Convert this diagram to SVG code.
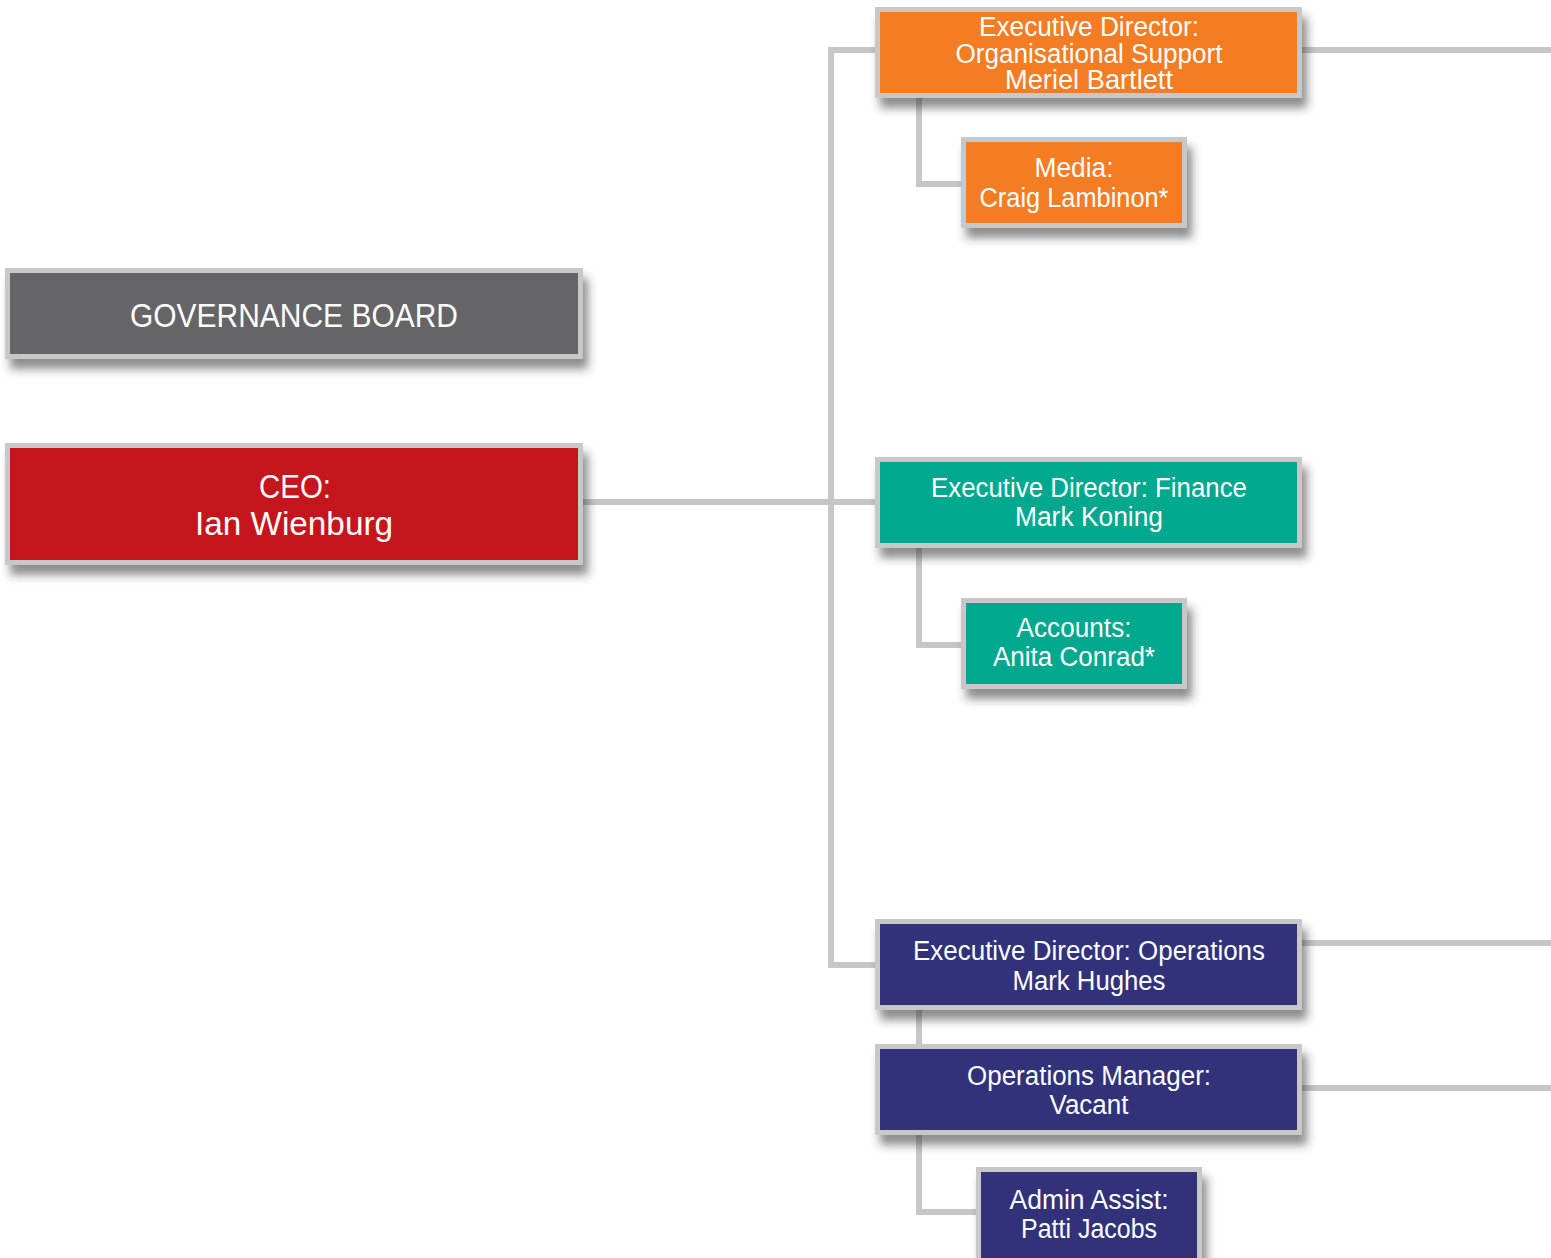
<svg xmlns="http://www.w3.org/2000/svg" width="1551" height="1258" viewBox="0 0 1551 1258">
<defs>
<filter id="sh" x="-10%" y="-20%" width="125%" height="160%">
<feDropShadow dx="5" dy="10" stdDeviation="5" flood-color="#333" flood-opacity="0.55"/>
</filter>
</defs>
<style>
.box{stroke:#c8c8c8;stroke-width:5;filter:url(#sh)}
.t{font-family:"Liberation Sans",Arial,sans-serif;fill:#fff;text-anchor:middle;font-size:27px}
.big{font-size:34px}
.con{fill:none;stroke:#c6c6c6;stroke-width:6}
</style>
<rect width="1551" height="1258" fill="#fff"/>
<g id="connectors">
<path class="con" d="M583 502 H878"/>
<path class="con" d="M878 50 H831 V965 H878"/>
<path class="con" d="M1300 50 H1551"/>
<path class="con" d="M919 96 V184 H963"/>
<path class="con" d="M919 546 V645 H963"/>
<path class="con" d="M1300 943 H1551"/>
<path class="con" d="M919 1008 V1046"/>
<path class="con" d="M1300 1088 H1551"/>
<path class="con" d="M919 1133 V1212 H978"/>
</g>
<g id="governance">
<rect class="box" x="7.5" y="270.5" width="573" height="86" fill="#656567"/>
<text class="t big" x="294" y="327" textLength="328" lengthAdjust="spacingAndGlyphs">GOVERNANCE BOARD</text>
</g>
<g id="ceo">
<rect class="box" x="7.5" y="445.5" width="573" height="117" fill="#c4141c"/>
<text class="t big" x="295" y="498" textLength="72" lengthAdjust="spacingAndGlyphs">CEO:</text>
<text class="t big" x="294" y="535" textLength="198" lengthAdjust="spacingAndGlyphs">Ian Wienburg</text>
</g>
<g id="ed-org">
<rect class="box" x="877.5" y="9.5" width="422" height="86" fill="#f47b20"/>
<text class="t" x="1089" y="36" textLength="220" lengthAdjust="spacingAndGlyphs">Executive Director:</text>
<text class="t" x="1089" y="63" textLength="267" lengthAdjust="spacingAndGlyphs">Organisational Support</text>
<text class="t" x="1089" y="89" textLength="168" lengthAdjust="spacingAndGlyphs">Meriel Bartlett</text>
</g>
<g id="media">
<rect class="box" x="963.5" y="139.5" width="221" height="86" fill="#f47b20"/>
<text class="t" x="1074" y="177" textLength="79" lengthAdjust="spacingAndGlyphs">Media:</text>
<text class="t" x="1074" y="207" textLength="189" lengthAdjust="spacingAndGlyphs">Craig Lambinon*</text>
</g>
<g id="ed-finance">
<rect class="box" x="877.5" y="459.5" width="422" height="86" fill="#00a88e"/>
<text class="t" x="1089" y="497" textLength="316" lengthAdjust="spacingAndGlyphs">Executive Director: Finance</text>
<text class="t" x="1089" y="526" textLength="148" lengthAdjust="spacingAndGlyphs">Mark Koning</text>
</g>
<g id="accounts">
<rect class="box" x="963.5" y="600.5" width="221" height="86" fill="#00a88e"/>
<text class="t" x="1074" y="637" textLength="115" lengthAdjust="spacingAndGlyphs">Accounts:</text>
<text class="t" x="1074" y="666" textLength="162" lengthAdjust="spacingAndGlyphs">Anita Conrad*</text>
</g>
<g id="ed-operations">
<rect class="box" x="877.5" y="921.5" width="422" height="86" fill="#31327a"/>
<text class="t" x="1089" y="960" textLength="352" lengthAdjust="spacingAndGlyphs">Executive Director: Operations</text>
<text class="t" x="1089" y="990" textLength="153" lengthAdjust="spacingAndGlyphs">Mark Hughes</text>
</g>
<g id="ops-manager">
<rect class="box" x="877.5" y="1046.5" width="422" height="86" fill="#31327a"/>
<text class="t" x="1089" y="1085" textLength="244" lengthAdjust="spacingAndGlyphs">Operations Manager:</text>
<text class="t" x="1089" y="1114" textLength="79" lengthAdjust="spacingAndGlyphs">Vacant</text>
</g>
<g id="admin">
<rect class="box" x="978.5" y="1169.5" width="221" height="100" fill="#31327a"/>
<text class="t" x="1089" y="1209" textLength="159" lengthAdjust="spacingAndGlyphs">Admin Assist:</text>
<text class="t" x="1089" y="1238" textLength="136" lengthAdjust="spacingAndGlyphs">Patti Jacobs</text>
</g>
</svg>
